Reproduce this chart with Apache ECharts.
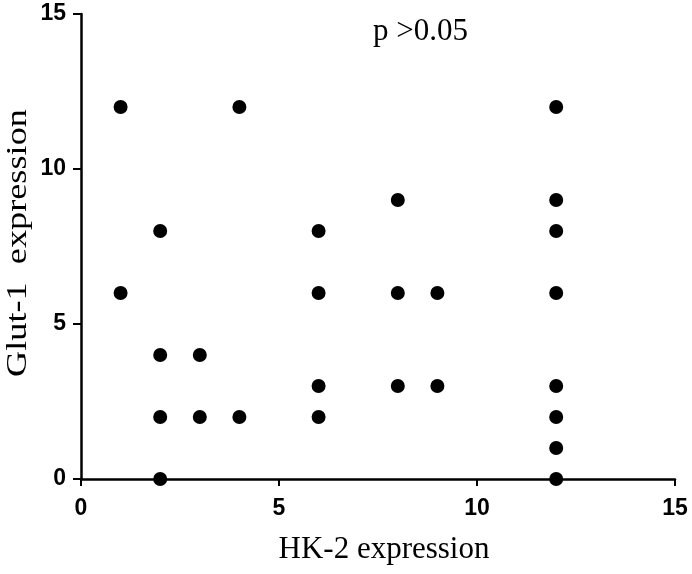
<!DOCTYPE html>
<html><head><meta charset="utf-8">
<script src="https://cdn.jsdelivr.net/npm/echarts@6/dist/echarts.min.js"></script>
<style>html,body{margin:0;padding:0;background:#fff}#c{width:692px;height:574px}</style>
</head><body><div id="c"></div>
<script>
const hk2 = [1,1,2,2,2,2,3,3,4,4,6,6,6,6,8,8,8,9,9,12,12,12,12,12,12,12,12];
const glut1 = [12,6,8,4,2,0,4,2,12,2,8,6,3,2,9,6,3,6,3,12,9,8,6,3,2,1,0];
const xTicks = [0,5,10,15];
const yTicks = [0,5,10,15];
const xName = 'HK-2 expression';
const yName = 'Glut-1  expression';
const annotation = 'p >0.05';

const chart = echarts.init(document.getElementById('c'));
const tickLabel = {color:'#000', fontFamily:'"Liberation Sans", Arial', fontWeight:'bold', fontSize:23};
chart.setOption({
  animation:false,
  backgroundColor:'#fff',
  grid:{left:81, right:17, top:14, bottom:95, containLabel:false},
  xAxis:{type:'value', min:xTicks[0], max:xTicks[xTicks.length-1], interval:5,
    name:xName, nameLocation:'middle', nameGap:55,
    nameTextStyle:{fontFamily:'"Liberation Serif", "Times New Roman"', fontSize:31, color:'#000', padding:[0,0,0,12]},
    axisLine:{show:true, onZero:false, lineStyle:{color:'#000', width:2.5}},
    axisTick:{show:true, length:7, lineStyle:{color:'#000', width:2}},
    axisLabel:Object.assign({margin:18}, tickLabel),
    splitLine:{show:false}},
  yAxis:{type:'value', min:yTicks[0], max:yTicks[yTicks.length-1], interval:5,
    axisLine:{show:true, onZero:false, lineStyle:{color:'#000', width:2.5}},
    axisTick:{show:true, length:8, lineStyle:{color:'#000', width:2}},
    axisLabel:Object.assign({margin:15}, tickLabel),
    splitLine:{show:false}},
  graphic:[
    {type:'text', left:373, top:16,
      style:{text:annotation, font:'31px "Liberation Serif", "Times New Roman"', fill:'#000'}},
    {type:'text', x:18, y:243, rotation:Math.PI/2, scaleX:1.25,
      style:{text:yName, font:'29px "Liberation Serif", "Times New Roman"', fill:'#000', align:'center', verticalAlign:'middle'}}
  ],
  series:[{type:'scatter', symbol:'circle', symbolSize:14,
    itemStyle:{color:'#000', opacity:1},
    data:hk2.map((x,i)=>[x, glut1[i]]), z:5}]
});
</script></body></html>
